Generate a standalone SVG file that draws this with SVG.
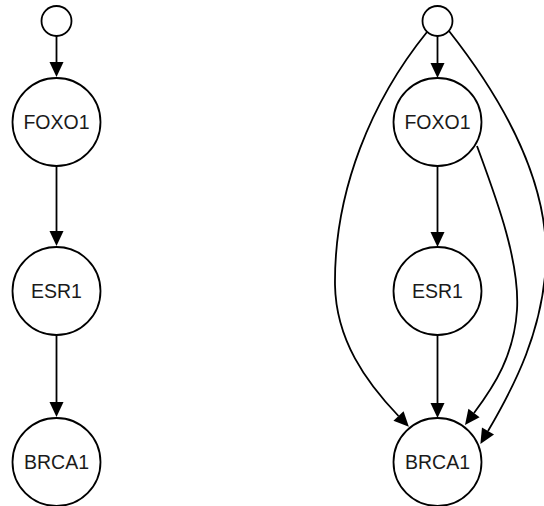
<svg xmlns="http://www.w3.org/2000/svg" width="544" height="506" viewBox="0 0 544 506">
  <style>
    .node circle { fill: #ffffff; stroke: #000000; stroke-width: 1.8; }
    .node text { font-family: "Liberation Sans", Arial, sans-serif; font-size: 19.5px; fill: #1a1a1a; text-anchor: middle; }
    .edges path, .edges line { fill: none; stroke: #000000; stroke-width: 1.8; marker-end: url(#arrow); }
  </style>
  <defs>
    <marker id="arrow" markerUnits="userSpaceOnUse" markerWidth="16" markerHeight="16" refX="0" refY="7" orient="auto" overflow="visible">
      <path d="M0,0 L15,7 L0,14 Z" fill="#000000"/>
    </marker>
  </defs>

  <rect width="544" height="506" fill="#ffffff"/>

  <g class="edges" id="edges">
    <!-- left chain -->
    <line x1="56.5" y1="36" x2="56.5" y2="62"/>
    <line x1="56.5" y1="166" x2="56.5" y2="231"/>
    <line x1="56.5" y1="335" x2="56.5" y2="402"/>
    <!-- right chain -->
    <line x1="437.5" y1="36" x2="437.5" y2="63"/>
    <line x1="437.5" y1="166" x2="437.5" y2="232"/>
    <line x1="437.5" y1="335" x2="437.5" y2="403"/>
    <!-- right: source to BRCA1, left arc -->
    <path d="M427,32 C372,100 334,190 335,285 C336,340 366,382 398.5,416"/>
    <!-- right: FOXO1 to BRCA1 -->
    <path d="M477,146 C495,195 520,260 517,310 C514,355 495,385 474,413"/>
    <!-- right: source to BRCA1, right arc -->
    <path d="M449,31 C497,92 549,175 546,262 C543,330 515,385 488,431"/>
  </g>

  <g class="node" id="left-source"><circle cx="56.5" cy="21" r="15"/></g>
  <g class="node" id="left-foxo1"><circle cx="56.5" cy="122" r="44"/><text x="56.5" y="129">FOXO1</text></g>
  <g class="node" id="left-esr1"><circle cx="56.5" cy="291" r="44"/><text x="56.5" y="298">ESR1</text></g>
  <g class="node" id="left-brca1"><circle cx="56.5" cy="462" r="44"/><text x="56.5" y="469">BRCA1</text></g>

  <g class="node" id="right-source"><circle cx="437.5" cy="21" r="15"/></g>
  <g class="node" id="right-foxo1"><circle cx="437.5" cy="122" r="44"/><text x="437.5" y="129">FOXO1</text></g>
  <g class="node" id="right-esr1"><circle cx="437.5" cy="291" r="44"/><text x="437.5" y="298">ESR1</text></g>
  <g class="node" id="right-brca1"><circle cx="437.5" cy="462" r="44"/><text x="437.5" y="469">BRCA1</text></g>
</svg>
